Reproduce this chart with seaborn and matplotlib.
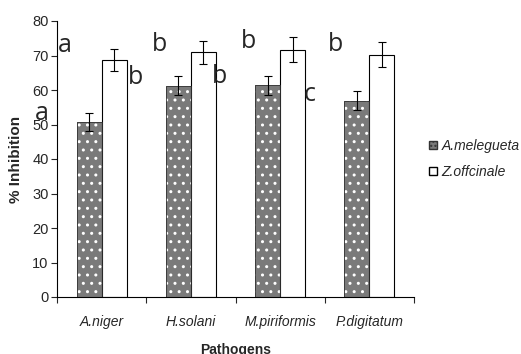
import numpy as np
import pandas as pd
import matplotlib
matplotlib.use('Agg')
import matplotlib.pyplot as plt
from matplotlib.patches import Rectangle, Patch
import seaborn as sns

# data
pathogens = ['A.niger', 'H.solani', 'M.piriformis', 'P.digitatum']
extracts = ['A.melegueta', 'Z.offcinale']
melegueta = [50.7, 61.3, 61.4, 56.9]
officinale = [68.7, 70.9, 71.7, 70.2]
melegueta_err = [2.6, 2.7, 2.8, 2.7]
officinale_err = [3.3, 3.3, 3.6, 3.6]
# significance letters and where they sit (data coords, as placed in the source)
letters = ['a', 'a', 'b', 'b', 'b', 'b', 'c', 'b']
letter_x = [-0.49, -0.75, 0.29, 0.56, 1.23, 1.56, 2.26, 2.53]
letter_y = [73.0, 53.3, 63.5, 73.3, 63.8, 74.2, 58.6, 73.3]

sns.set_style('white')
plt.rcParams['font.family'] = ['Liberation Sans', 'DejaVu Sans']

df = pd.DataFrame({
    'Pathogens': pathogens * 2,
    'Extract': [extracts[0]] * 4 + [extracts[1]] * 4,
    'Inhibition': melegueta + officinale,
})

fig = plt.figure(figsize=(5.21, 3.54), dpi=100)
ax = fig.add_axes([57 / 521, 57 / 354, 357 / 521, 276 / 354])

sns.barplot(data=df, x='Pathogens', y='Inhibition', hue='Extract',
            palette=['#7a7a7a', 'white'], width=0.56, errorbar=None,
            edgecolor='black', linewidth=0.8, legend=False, ax=ax)

# dotted fill on the A.melegueta bars, thin dark outline on top
bars = ax.patches[:8]
for p in bars[:4]:
    p.set_edgecolor('white')
    p.set_linewidth(0)
    p.set_hatch('..')
    ax.add_patch(Rectangle(p.get_xy(), p.get_width(), p.get_height(),
                           fill=False, edgecolor='#333333', linewidth=0.6))

errs = melegueta_err + officinale_err
for p, e in zip(bars, errs):
    xc = p.get_x() + p.get_width() / 2
    ax.errorbar(xc, p.get_height(), yerr=e, color='black', capsize=3,
                elinewidth=0.8, capthick=0.8, fmt='none')

for t, x, y in zip(letters, letter_x, letter_y):
    ax.text(x, y, t, fontsize=18, family=['Open Sans', 'DejaVu Sans'],
            ha='left', va='center', clip_on=False)

ax.set_xlim(-0.5, 3.5)
ax.set_ylim(0, 80)
ax.set_yticks(range(0, 81, 10))
ax.set_yticklabels([str(v) for v in range(0, 81, 10)],
                   family=['Liberation Sans Narrow', 'Liberation Sans'],
                   fontsize=10.5)
ax.set_xticks(np.arange(-0.5, 3.6, 1))
ax.set_xticklabels([])
ax.set_xticks(range(4), minor=True)
ax.set_xticklabels(pathogens, minor=True, style='italic', fontsize=10)
ax.tick_params(axis='x', which='minor', length=0, pad=13)
ax.tick_params(axis='both', which='major', direction='out', length=4,
               width=0.8, bottom=True, left=True, pad=2)
for s in ['top', 'right']:
    ax.spines[s].set_visible(False)
for s in ['left', 'bottom']:
    ax.spines[s].set_color('black')
    ax.spines[s].set_linewidth(0.8)

ax.set_xlabel('Pathogens', fontsize=10, fontweight='bold', va='baseline')
ax.xaxis.set_label_coords(0.5, -0.205)
ax.set_ylabel('% Inhibition', fontsize=11, fontweight='bold')
ax.yaxis.set_label_coords(-0.095, 0.5)

handles = [Patch(facecolor='#7a7a7a', edgecolor='#333333', hatch='....'),
           Patch(facecolor='white', edgecolor='black')]
fig.legend(handles, extracts, loc='center left',
           bbox_to_anchor=(429 / 521, 1 - 159 / 354), frameon=False,
           prop={'style': 'italic', 'size': 10}, handlelength=0.55,
           handleheight=0.55, handletextpad=0.35, labelspacing=0.85,
           borderpad=0, borderaxespad=0)

fig.savefig('out.png', dpi=100)
